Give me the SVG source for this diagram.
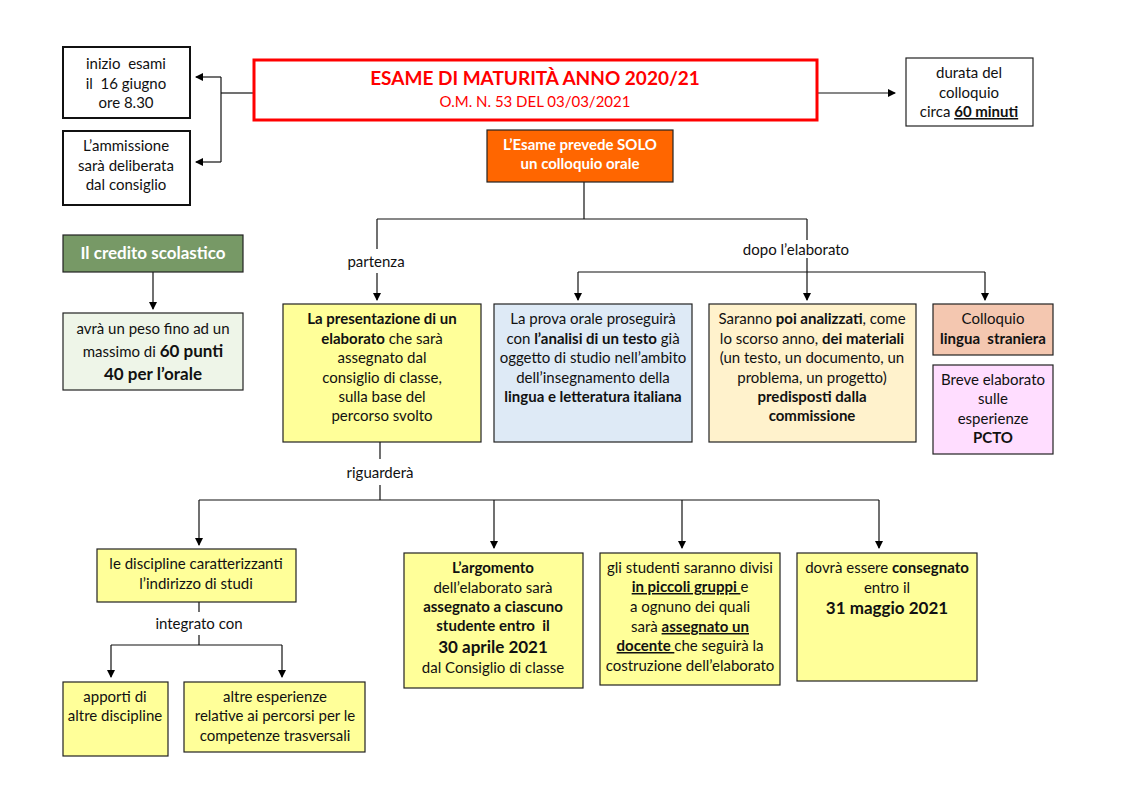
<svg xmlns="http://www.w3.org/2000/svg" width="1123" height="793" viewBox="0 0 1123 793">
<defs>
<marker id="arr" markerWidth="8" markerHeight="8" refX="7" refY="4" orient="auto" markerUnits="userSpaceOnUse">
<path d="M0,0 L8,4 L0,8 Z" fill="#000"/>
</marker>
<style>
text{font-family:Lato,"Liberation Sans",sans-serif;font-size:15px;fill:#111;text-anchor:middle;white-space:pre}
.b{font-weight:bold}
.u{text-decoration:underline}
.big{font-size:17px;font-weight:bold}
.box{stroke:#222;stroke-width:1.2}
.bk{fill:#fff;stroke:#111;stroke-width:2}
.y{fill:#FFFF99}
.c line,.c path{stroke:#111;stroke-width:1.2;fill:none}
.a{marker-end:url(#arr)}
.w{fill:#fff;font-weight:bold}
.red{fill:#FF0000}
</style>
</defs>
<rect width="1123" height="793" fill="#fff"/>

<g id="connectors" class="c">
<line x1="253" y1="93" x2="221" y2="93"/>
<line x1="221" y1="77" x2="221" y2="162"/>
<line class="a" x1="221" y1="77" x2="196" y2="77"/>
<line class="a" x1="221" y1="162" x2="196" y2="162"/>
<line class="a" x1="818" y1="93" x2="895" y2="93"/>
<line x1="584" y1="182" x2="584" y2="219"/>
<line x1="377" y1="219" x2="807" y2="219"/>
<line x1="377" y1="219" x2="377" y2="249"/>
<line class="a" x1="377" y1="273" x2="377" y2="300"/>
<line x1="807" y1="219" x2="807" y2="240"/>
<line class="a" x1="807" y1="258" x2="807" y2="300"/>
<line x1="578" y1="272" x2="985" y2="272"/>
<line class="a" x1="578" y1="272" x2="578" y2="300"/>
<line class="a" x1="985" y1="272" x2="985" y2="300"/>
<line class="a" x1="153" y1="272" x2="153" y2="309"/>
<line x1="380" y1="442" x2="380" y2="459"/>
<line x1="380" y1="485" x2="380" y2="500"/>
<line x1="199" y1="500" x2="879" y2="500"/>
<line class="a" x1="199" y1="500" x2="199" y2="545"/>
<line class="a" x1="494" y1="500" x2="494" y2="548"/>
<line class="a" x1="682" y1="500" x2="682" y2="548"/>
<line class="a" x1="879" y1="500" x2="879" y2="548"/>
<line x1="199" y1="602" x2="199" y2="612"/>
<line x1="199" y1="635" x2="199" y2="645"/>
<line x1="111" y1="645" x2="282" y2="645"/>
<line class="a" x1="111" y1="645" x2="111" y2="677"/>
<line class="a" x1="282" y1="645" x2="282" y2="677"/>
</g>

<g id="labels">
<text x="376" y="267">partenza</text>
<text x="796" y="255">dopo l’elaborato</text>
<text x="380" y="478">riguarderà</text>
<text x="199" y="629">integrato con</text>
</g>

<g id="n-inizio">
<rect class="bk" x="63" y="47" width="127" height="71"/>
<text x="126" y="69">inizio  esami</text>
<text x="126" y="89">il  16 giugno</text>
<text x="126" y="108">ore 8.30</text>
</g>

<g id="n-ammissione">
<rect class="bk" x="63" y="131" width="127" height="74"/>
<text x="126" y="151">L’ammissione</text>
<text x="126" y="171">sarà deliberata</text>
<text x="126" y="190">dal consiglio</text>
</g>

<g id="n-title">
<rect x="254" y="60" width="563" height="60" fill="#fff" stroke="#FF0000" stroke-width="3"/>
<text class="red b" x="535" y="85" style="font-size:19px">ESAME DI MATURITÀ ANNO 2020/21</text>
<text class="red" x="535" y="107">O.M. N. 53 DEL 03/03/2021</text>
</g>

<g id="n-durata">
<rect x="906" y="58" width="127" height="68" fill="#fff" stroke="#222" stroke-width="1.2"/>
<text x="969" y="78">durata del</text>
<text x="969" y="98">colloquio</text>
<text x="969" y="117">circa <tspan class="b u">60 minuti</tspan></text>
</g>

<g id="n-orale">
<rect class="box" x="487" y="130" width="186" height="52" fill="#FF6600"/>
<text class="w" x="580" y="150">L’Esame prevede SOLO</text>
<text class="w" x="580" y="169">un colloquio orale</text>
</g>

<g id="n-credito">
<rect class="box" x="63" y="235" width="180" height="37" fill="#779966"/>
<text class="w" x="153" y="259" style="font-size:17px">Il credito scolastico</text>
</g>

<g id="n-peso">
<rect class="box" x="63" y="313" width="180" height="77" fill="#EEF5E8"/>
<text x="153" y="334">avrà un peso fino ad un</text>
<text x="153" y="357">massimo di <tspan class="big">60 punti</tspan></text>
<text class="big" x="153" y="380">40 per l’orale</text>
</g>

<g id="n-presentazione">
<rect class="box y" x="283" y="304" width="198" height="138"/>
<text class="b" x="382" y="324">La presentazione di un</text>
<text x="382" y="344"><tspan class="b">elaborato</tspan> che sarà</text>
<text x="382" y="363">assegnato dal</text>
<text x="382" y="383">consiglio di classe,</text>
<text x="382" y="402">sulla base del</text>
<text x="382" y="421">percorso svolto</text>
</g>

<g id="n-testo">
<rect class="box" x="494" y="304" width="198" height="138" fill="#DEEAF6"/>
<text x="593" y="324">La prova orale proseguirà</text>
<text x="593" y="344">con <tspan class="b">l’analisi di un testo</tspan> già</text>
<text x="593" y="363">oggetto di studio nell’ambito</text>
<text x="593" y="383">dell’insegnamento della</text>
<text class="b" x="593" y="402">lingua e letteratura italiana</text>
</g>

<g id="n-materiali">
<rect class="box" x="709" y="304" width="207" height="138" fill="#FFF2CC"/>
<text x="812" y="324">Saranno <tspan class="b">poi analizzati</tspan>, come</text>
<text x="812" y="344">lo scorso anno, <tspan class="b">dei materiali</tspan></text>
<text x="812" y="363">(un testo, un documento, un</text>
<text x="812" y="383">problema, un progetto)</text>
<text class="b" x="812" y="402">predisposti dalla</text>
<text class="b" x="812" y="421">commissione</text>
</g>

<g id="n-lingua">
<rect class="box" x="933" y="304" width="120" height="51" fill="#F4C7B0"/>
<text x="993" y="324">Colloquio</text>
<text class="b" x="993" y="344">lingua  straniera</text>
</g>

<g id="n-pcto">
<rect class="box" x="933" y="365" width="120" height="89" fill="#FFDDFF"/>
<text x="993" y="385">Breve elaborato</text>
<text x="993" y="404">sulle</text>
<text x="993" y="424">esperienze</text>
<text class="b" x="993" y="443">PCTO</text>
</g>

<g id="n-discipline">
<rect class="box y" x="97" y="549" width="199" height="53"/>
<text x="196" y="569">le discipline caratterizzanti</text>
<text x="196" y="589">l’indirizzo di studi</text>
</g>

<g id="n-apporti">
<rect class="box y" x="63" y="682" width="105" height="74"/>
<text x="115" y="702">apporti di</text>
<text x="115" y="721">altre discipline</text>
</g>

<g id="n-esperienze">
<rect class="box y" x="184" y="682" width="181" height="70"/>
<text x="275" y="702">altre esperienze</text>
<text x="275" y="721">relative ai percorsi per le</text>
<text x="275" y="741">competenze trasversali</text>
</g>

<g id="n-argomento">
<rect class="box y" x="404" y="553" width="179" height="135"/>
<text class="b" x="493" y="573">L’argomento</text>
<text x="493" y="593">dell’elaborato sarà</text>
<text class="b" x="493" y="612">assegnato a ciascuno</text>
<text class="b" x="493" y="631">studente entro  il</text>
<text class="big" x="493" y="653">30 aprile 2021</text>
<text x="493" y="673">dal Consiglio di classe</text>
</g>

<g id="n-gruppi">
<rect class="box y" x="600" y="553" width="180" height="132"/>
<text x="690" y="573">gli studenti saranno divisi</text>
<text x="690" y="592"><tspan class="b u">in piccoli gruppi </tspan>e</text>
<text x="690" y="612">a ognuno dei quali</text>
<text x="690" y="632">sarà <tspan class="b u">assegnato un</tspan></text>
<text x="690" y="651"><tspan class="b u">docente </tspan>che seguirà la</text>
<text x="690" y="671">costruzione dell’elaborato</text>
</g>

<g id="n-consegna">
<rect class="box y" x="797" y="553" width="180" height="128"/>
<text x="887" y="573">dovrà essere <tspan class="b">consegnato</tspan></text>
<text x="887" y="593">entro il</text>
<text class="big" x="887" y="614">31 maggio 2021</text>
</g>
</svg>
